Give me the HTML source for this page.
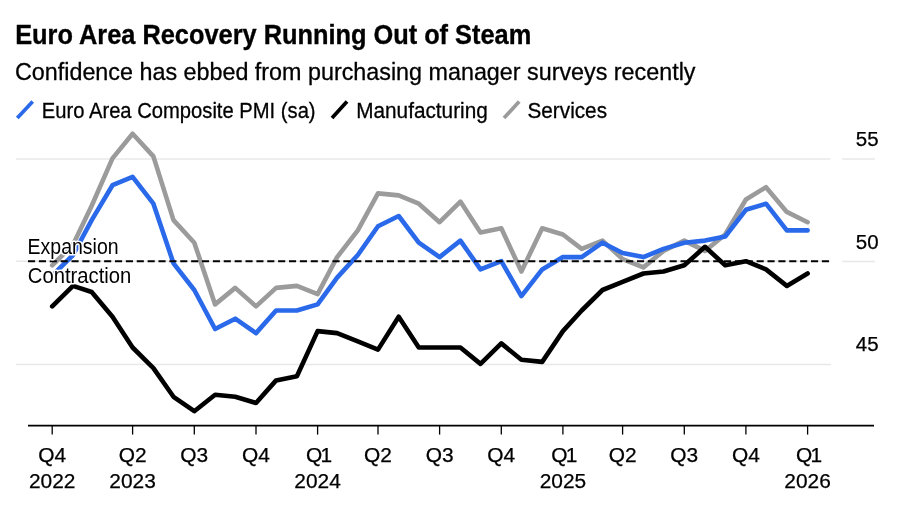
<!DOCTYPE html>
<html><head><meta charset="utf-8"><title>Euro Area Recovery Running Out of Steam</title>
<style>
html,body{margin:0;padding:0;background:#fff;}
svg{display:block;font-family:"Liberation Sans",Arial,Helvetica,sans-serif;}
.t{font-size:28px;font-weight:700;fill:#000;stroke:#000;stroke-width:0.35px;}
.s{font-size:24.6px;fill:#000;stroke:#000;stroke-width:0.3px;}
.l{font-size:22.5px;fill:#000;stroke:#000;stroke-width:0.3px;}
.an{font-size:21.5px;fill:#000;stroke:#fff;stroke-width:3.2px;paint-order:stroke fill;stroke-linejoin:round;}
.ay{font-size:20.5px;fill:#000;stroke:#000;stroke-width:0.25px;}
.ax{font-size:20.9px;fill:#000;stroke:#000;stroke-width:0.25px;}
</style></head><body>
<svg width="900" height="510" viewBox="0 0 900 510">
<rect width="900" height="510" fill="#fff"/>
<text x="15.2" y="44" class="t" textLength="516" lengthAdjust="spacingAndGlyphs">Euro Area Recovery Running Out of Steam</text>
<text x="15" y="79.8" class="s" textLength="680.5" lengthAdjust="spacingAndGlyphs">Confidence has ebbed from purchasing manager surveys recently</text>
<line x1="17.3" y1="118.1" x2="32.7" y2="101.4" stroke="#2a69ea" stroke-width="3.7"/>
<text x="41.8" y="118.2" class="l" textLength="273.8" lengthAdjust="spacingAndGlyphs">Euro Area Composite PMI (sa)</text>
<line x1="332" y1="118.1" x2="347" y2="101.5" stroke="#000" stroke-width="3.7"/>
<text x="356.2" y="118.2" class="l" textLength="131.6" lengthAdjust="spacingAndGlyphs">Manufacturing</text>
<line x1="504" y1="118.1" x2="519.2" y2="101.6" stroke="#9b9b9b" stroke-width="3.7"/>
<text x="527.5" y="118.2" class="l" textLength="79.5" lengthAdjust="spacingAndGlyphs">Services</text>
<g stroke="#e8e8e8" stroke-width="1.5">
<line x1="16" y1="159" x2="830.5" y2="159"/><line x1="842.2" y1="159" x2="875" y2="159"/>
<line x1="16" y1="261.3" x2="830.5" y2="261.3"/><line x1="842.2" y1="261.5" x2="875" y2="261.5"/>
<line x1="16" y1="364.5" x2="831" y2="364.5"/>
</g>
<g fill="none" stroke-width="4.6" stroke-linejoin="round" stroke-linecap="round">
<polyline stroke="#9b9b9b" points="52.2,265.3 73.0,244.8 91.7,205.7 112.5,158.4 132.6,133.8 153.4,156.4 173.5,220.1 194.3,242.7 215.1,304.4 235.2,287.9 256.0,306.4 276.1,287.9 296.9,285.9 317.6,294.1 337.1,257.1 357.8,230.4 378.0,193.4 398.7,195.4 418.8,203.7 439.6,222.2 460.4,201.6 480.5,232.4 501.3,228.3 521.4,271.5 542.2,228.3 562.9,234.5 581.7,248.9 602.5,240.6 622.6,259.1 643.4,267.4 663.5,250.9 684.3,240.6 705.0,250.9 725.2,234.5 745.9,199.5 766.0,187.2 786.8,211.9 807.6,222.2"/>
<polyline stroke="#000" points="52.2,306.4 73.0,285.9 91.7,292.0 112.5,316.7 132.6,347.5 153.4,368.1 173.5,396.8 194.3,411.2 215.1,394.8 235.2,396.8 256.0,403.0 276.1,380.4 296.9,376.3 317.6,331.1 337.1,333.1 357.8,341.3 378.0,349.6 398.7,316.7 418.8,347.5 439.6,347.5 460.4,347.5 480.5,363.9 501.3,343.4 521.4,359.8 542.2,361.9 562.9,331.1 581.7,310.5 602.5,290.0 622.6,281.8 643.4,273.5 663.5,271.5 684.3,265.3 705.0,246.8 725.2,265.3 745.9,261.2 766.0,269.4 786.8,285.9 807.6,273.5"/>
<polyline stroke="#2a69ea" points="52.2,275.6 73.0,255.0 91.7,220.1 112.5,185.2 132.6,176.9 153.4,203.7 173.5,263.3 194.3,290.0 215.1,329.0 235.2,318.7 256.0,333.1 276.1,310.5 296.9,310.5 317.6,304.4 337.1,277.6 357.8,255.0 378.0,226.3 398.7,216.0 418.8,242.7 439.6,257.1 460.4,240.6 480.5,269.4 501.3,261.2 521.4,296.1 542.2,269.4 562.9,257.1 581.7,257.1 602.5,242.7 622.6,253.0 643.4,257.1 663.5,248.9 684.3,242.7 705.0,240.6 725.2,236.5 745.9,209.8 766.0,203.7 786.8,230.4 807.6,230.4"/>
</g>
<line x1="28" y1="261.2" x2="829.4" y2="261.2" stroke="#000" stroke-width="2.1" stroke-dasharray="7.1 3.775"/>
<text x="27.6" y="253.8" class="an" textLength="91" lengthAdjust="spacingAndGlyphs">Expansion</text>
<text x="27.8" y="283.2" class="an" textLength="103.5" lengthAdjust="spacingAndGlyphs">Contraction</text>
<text x="878.6" y="146" text-anchor="end" class="ay">55</text>
<text x="878.6" y="248.5" text-anchor="end" class="ay">50</text>
<text x="878.6" y="351" text-anchor="end" class="ay">45</text>
<line x1="28" y1="425.65" x2="874" y2="425.65" stroke="#000" stroke-width="1.6"/>
<line x1="52.2" y1="425.6" x2="52.2" y2="434.6" stroke="#000" stroke-width="1.3"/>
<text x="52.2" y="462" text-anchor="middle" class="ax">Q4</text>
<text x="52.2" y="488.3" text-anchor="middle" class="ax">2022</text>
<line x1="132.6" y1="425.6" x2="132.6" y2="434.6" stroke="#000" stroke-width="1.3"/>
<text x="132.6" y="462" text-anchor="middle" class="ax">Q2</text>
<text x="132.6" y="488.3" text-anchor="middle" class="ax">2023</text>
<line x1="194.3" y1="425.6" x2="194.3" y2="434.6" stroke="#000" stroke-width="1.3"/>
<text x="194.3" y="462" text-anchor="middle" class="ax">Q3</text>
<line x1="256.0" y1="425.6" x2="256.0" y2="434.6" stroke="#000" stroke-width="1.3"/>
<text x="256.0" y="462" text-anchor="middle" class="ax">Q4</text>
<line x1="317.6" y1="425.6" x2="317.6" y2="434.6" stroke="#000" stroke-width="1.3"/>
<text x="317.6" y="462" text-anchor="middle" class="ax"><tspan dx="1.5">Q</tspan><tspan dx="-1.7">1</tspan></text>
<text x="317.6" y="488.3" text-anchor="middle" class="ax">2024</text>
<line x1="378.0" y1="425.6" x2="378.0" y2="434.6" stroke="#000" stroke-width="1.3"/>
<text x="378.0" y="462" text-anchor="middle" class="ax">Q2</text>
<line x1="439.6" y1="425.6" x2="439.6" y2="434.6" stroke="#000" stroke-width="1.3"/>
<text x="439.6" y="462" text-anchor="middle" class="ax">Q3</text>
<line x1="501.3" y1="425.6" x2="501.3" y2="434.6" stroke="#000" stroke-width="1.3"/>
<text x="501.3" y="462" text-anchor="middle" class="ax">Q4</text>
<line x1="562.9" y1="425.6" x2="562.9" y2="434.6" stroke="#000" stroke-width="1.3"/>
<text x="562.9" y="462" text-anchor="middle" class="ax"><tspan dx="1.5">Q</tspan><tspan dx="-1.7">1</tspan></text>
<text x="562.9" y="488.3" text-anchor="middle" class="ax">2025</text>
<line x1="622.6" y1="425.6" x2="622.6" y2="434.6" stroke="#000" stroke-width="1.3"/>
<text x="622.6" y="462" text-anchor="middle" class="ax">Q2</text>
<line x1="684.3" y1="425.6" x2="684.3" y2="434.6" stroke="#000" stroke-width="1.3"/>
<text x="684.3" y="462" text-anchor="middle" class="ax">Q3</text>
<line x1="745.9" y1="425.6" x2="745.9" y2="434.6" stroke="#000" stroke-width="1.3"/>
<text x="745.9" y="462" text-anchor="middle" class="ax">Q4</text>
<line x1="807.6" y1="425.6" x2="807.6" y2="434.6" stroke="#000" stroke-width="1.3"/>
<text x="807.6" y="462" text-anchor="middle" class="ax"><tspan dx="1.5">Q</tspan><tspan dx="-1.7">1</tspan></text>
<text x="807.6" y="488.3" text-anchor="middle" class="ax">2026</text>
</svg>
</body></html>
